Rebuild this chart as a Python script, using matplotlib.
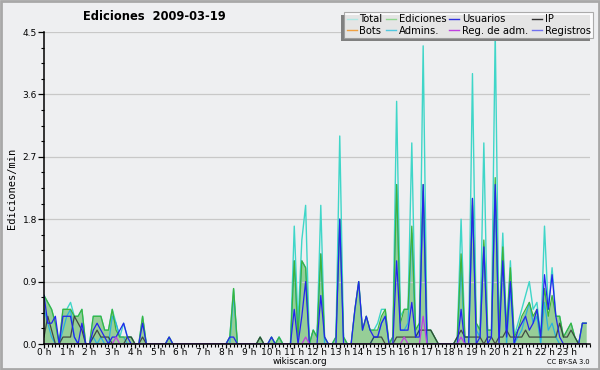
import numpy as np
import matplotlib
matplotlib.use("Agg")
import matplotlib.pyplot as plt
from matplotlib.lines import Line2D
from matplotlib.patches import Rectangle
from matplotlib.ticker import MultipleLocator

# 10-minute buckets, 0h00 .. 23h50 (edits per minute)
total = [0.7, 0.6, 0.5, 0.3, 0.0, 0.5, 0.5, 0.6, 0.4, 0.4, 0.5, 0.0,
         0.0, 0.4, 0.4, 0.4, 0.2, 0.2, 0.5, 0.3, 0.1, 0.3, 0.1, 0.1,
         0.0, 0.0, 0.4, 0.0, 0.0, 0.0, 0.0, 0.0, 0.0, 0.1, 0.0, 0.0,
         0.0, 0.0, 0.0, 0.0, 0.0, 0.0, 0.0, 0.0, 0.0, 0.0, 0.0, 0.0,
         0.0, 0.1, 0.8, 0.0, 0.0, 0.0, 0.0, 0.0, 0.0, 0.1, 0.0, 0.0,
         0.1, 0.0, 0.1, 0.0, 0.0, 0.0, 1.7, 0.3, 1.5, 2.0, 0.0, 0.2,
         0.1, 2.0, 0.1, 0.0, 0.0, 0.1, 3.0, 0.1, 0.0, 0.0, 0.5, 0.9,
         0.2, 0.4, 0.2, 0.2, 0.3, 0.5, 0.5, 0.0, 0.1, 3.5, 0.4, 0.5,
         0.5, 2.9, 0.2, 0.3, 4.3, 0.2, 0.2, 0.1, 0.0, 0.0, 0.0, 0.0,
         0.0, 0.1, 1.8, 0.1, 0.1, 3.9, 0.3, 0.2, 2.9, 0.2, 0.2, 4.5,
         0.2, 1.6, 0.2, 1.2, 0.1, 0.3, 0.5, 0.7, 0.9, 0.5, 0.6, 0.1,
         1.7, 0.5, 1.1, 0.4, 0.4, 0.1, 0.2, 0.3, 0.1, 0.0, 0.3, 0.3]

ediciones = [0.7, 0.6, 0.5, 0.3, 0.0, 0.5, 0.5, 0.5, 0.4, 0.4, 0.5, 0.0,
             0.0, 0.4, 0.4, 0.4, 0.2, 0.2, 0.5, 0.2, 0.1, 0.1, 0.1, 0.1,
             0.0, 0.0, 0.4, 0.0, 0.0, 0.0, 0.0, 0.0, 0.0, 0.1, 0.0, 0.0,
             0.0, 0.0, 0.0, 0.0, 0.0, 0.0, 0.0, 0.0, 0.0, 0.0, 0.0, 0.0,
             0.0, 0.1, 0.8, 0.0, 0.0, 0.0, 0.0, 0.0, 0.0, 0.1, 0.0, 0.0,
             0.1, 0.0, 0.1, 0.0, 0.0, 0.0, 1.2, 0.1, 1.2, 1.1, 0.0, 0.2,
             0.1, 1.3, 0.1, 0.0, 0.0, 0.1, 1.8, 0.1, 0.0, 0.0, 0.5, 0.9,
             0.2, 0.4, 0.2, 0.2, 0.2, 0.4, 0.5, 0.0, 0.1, 2.3, 0.3, 0.5,
             0.5, 1.7, 0.2, 0.3, 2.3, 0.2, 0.2, 0.1, 0.0, 0.0, 0.0, 0.0,
             0.0, 0.1, 1.3, 0.1, 0.1, 2.1, 0.3, 0.2, 1.5, 0.2, 0.2, 2.4,
             0.2, 1.4, 0.2, 1.1, 0.1, 0.2, 0.4, 0.5, 0.6, 0.4, 0.5, 0.1,
             0.8, 0.4, 0.7, 0.4, 0.4, 0.1, 0.2, 0.3, 0.1, 0.0, 0.3, 0.3]

usuarios = [0.7, 0.3, 0.3, 0.4, 0.0, 0.4, 0.4, 0.4, 0.1, 0.0, 0.3, 0.0,
            0.0, 0.2, 0.3, 0.2, 0.1, 0.0, 0.1, 0.1, 0.2, 0.3, 0.1, 0.0,
            0.0, 0.0, 0.3, 0.0, 0.0, 0.0, 0.0, 0.0, 0.0, 0.1, 0.0, 0.0,
            0.0, 0.0, 0.0, 0.0, 0.0, 0.0, 0.0, 0.0, 0.0, 0.0, 0.0, 0.0,
            0.0, 0.1, 0.1, 0.0, 0.0, 0.0, 0.0, 0.0, 0.0, 0.0, 0.0, 0.0,
            0.1, 0.0, 0.0, 0.0, 0.0, 0.0, 0.5, 0.0, 0.4, 0.9, 0.0, 0.0,
            0.0, 0.7, 0.1, 0.0, 0.0, 0.0, 1.8, 0.0, 0.0, 0.0, 0.5, 0.9,
            0.2, 0.4, 0.2, 0.1, 0.1, 0.3, 0.4, 0.0, 0.0, 1.2, 0.2, 0.2,
            0.2, 0.6, 0.1, 0.1, 2.3, 0.0, 0.0, 0.0, 0.0, 0.0, 0.0, 0.0,
            0.0, 0.0, 0.5, 0.0, 0.0, 2.1, 0.0, 0.1, 1.4, 0.0, 0.1, 2.3,
            0.0, 1.2, 0.1, 0.9, 0.0, 0.2, 0.3, 0.4, 0.2, 0.3, 0.5, 0.1,
            1.0, 0.5, 1.0, 0.4, 0.1, 0.0, 0.0, 0.0, 0.0, 0.0, 0.3, 0.3]

ip = [0.1, 0.4, 0.2, 0.0, 0.0, 0.1, 0.1, 0.1, 0.4, 0.3, 0.2, 0.0,
      0.0, 0.1, 0.2, 0.1, 0.1, 0.1, 0.0, 0.0, 0.0, 0.0, 0.1, 0.1,
      0.0, 0.0, 0.1, 0.0, 0.0, 0.0, 0.0, 0.0, 0.0, 0.0, 0.0, 0.0,
      0.0, 0.0, 0.0, 0.0, 0.0, 0.0, 0.0, 0.0, 0.0, 0.0, 0.0, 0.0,
      0.0, 0.0, 0.0, 0.0, 0.0, 0.0, 0.0, 0.0, 0.0, 0.1, 0.0, 0.0,
      0.0, 0.0, 0.0, 0.0, 0.0, 0.0, 0.0, 0.0, 0.0, 0.0, 0.0, 0.0,
      0.0, 0.0, 0.0, 0.0, 0.0, 0.0, 0.0, 0.0, 0.0, 0.0, 0.0, 0.0,
      0.0, 0.0, 0.0, 0.1, 0.1, 0.1, 0.0, 0.0, 0.0, 0.1, 0.1, 0.1,
      0.1, 0.1, 0.1, 0.2, 0.2, 0.2, 0.2, 0.1, 0.0, 0.0, 0.0, 0.0,
      0.0, 0.1, 0.2, 0.1, 0.1, 0.1, 0.1, 0.1, 0.0, 0.1, 0.1, 0.0,
      0.1, 0.1, 0.2, 0.1, 0.1, 0.1, 0.1, 0.2, 0.1, 0.1, 0.1, 0.1,
      0.1, 0.1, 0.1, 0.1, 0.3, 0.1, 0.1, 0.2, 0.1, 0.0, 0.0, 0.0]

admins = [0.5, 0.3, 0.1, 0.0, 0.0, 0.2, 0.4, 0.5, 0.1, 0.0, 0.0, 0.0,
          0.0, 0.1, 0.0, 0.1, 0.0, 0.0, 0.4, 0.3, 0.1, 0.1, 0.0, 0.0,
          0.0, 0.0, 0.0, 0.0, 0.0, 0.0, 0.0, 0.0, 0.0, 0.0, 0.0, 0.0,
          0.0, 0.0, 0.0, 0.0, 0.0, 0.0, 0.0, 0.0, 0.0, 0.0, 0.0, 0.0,
          0.0, 0.0, 0.7, 0.0, 0.0, 0.0, 0.0, 0.0, 0.0, 0.0, 0.0, 0.0,
          0.0, 0.0, 0.1, 0.0, 0.0, 0.0, 1.2, 0.1, 1.2, 1.1, 0.0, 0.2,
          0.1, 1.3, 0.0, 0.0, 0.0, 0.1, 1.8, 0.1, 0.0, 0.0, 0.0, 0.0,
          0.0, 0.0, 0.0, 0.1, 0.1, 0.3, 0.4, 0.0, 0.1, 2.3, 0.2, 0.2,
          0.3, 1.6, 0.1, 0.2, 2.2, 0.0, 0.0, 0.0, 0.0, 0.0, 0.0, 0.0,
          0.0, 0.0, 1.1, 0.0, 0.0, 2.0, 0.2, 0.1, 1.4, 0.1, 0.1, 2.2,
          0.1, 1.3, 0.0, 0.8, 0.0, 0.1, 0.2, 0.4, 0.6, 0.3, 0.4, 0.0,
          0.6, 0.2, 0.3, 0.1, 0.0, 0.0, 0.0, 0.0, 0.0, 0.0, 0.0, 0.0]

reg_adm = [0.0] * 144
for k, v in [(19, 0.1), (69, 0.1), (95, 0.1), (100, 0.4), (110, 0.1)]:
    reg_adm[k] = v
bots = [0.0] * 144
registros = [0.0] * 144

hour_labels = [f"{h} h" for h in range(24)]
y_ticks = [0.0, 0.9, 1.8, 2.7, 3.6, 4.5]

t = np.arange(len(total)) / 6.0

BG = "#eeeff1"
fig = plt.figure(figsize=(6.0, 3.7), dpi=100, facecolor=BG)
ax = fig.add_axes([44/600, 1-344/370, 546/600, 312/370], facecolor=BG)

c_total = "#3fd6c8"
c_edit = "#3cb43c"
c_users = "#2424ee"
c_ip = "#333333"
c_bots = "#f0a030"
c_admins = "#2ab0e0"
c_regadm = "#c040e0"
c_reg = "#7070f0"

ax.fill_between(t, ediciones, 0, color="#5cb85c", alpha=0.6, lw=0, zorder=1)
ax.plot(t, total, color=c_total, lw=1.0, zorder=2)
ax.plot(t, admins, color=c_admins, lw=0.9, zorder=3)
ax.plot(t, ediciones, color=c_edit, lw=0.9, zorder=4)
ax.plot(t, bots, color=c_bots, lw=0.9, zorder=4)
ax.plot(t, ip, color=c_ip, lw=0.9, alpha=0.85, zorder=5)
ax.plot(t, usuarios, color=c_users, lw=0.9, zorder=6)
ax.plot(t, registros, color=c_reg, lw=0.9, zorder=6)
ax.plot(t, reg_adm, color=c_regadm, lw=0.9, zorder=7)

ax.set_xlim(0, 24)
ax.set_ylim(0, 4.5)
ax.set_yticks(y_ticks)
ax.set_yticklabels([f"{v:.1f}" for v in y_ticks])
ax.yaxis.set_minor_locator(MultipleLocator(0.225))
ax.set_xticks(range(24))
ax.set_xticklabels(hour_labels)
ax.xaxis.set_minor_locator(MultipleLocator(1/6))
ax.tick_params(axis="y", which="major", labelsize=6.5, length=4, width=0.9,
               color="black", pad=1)
ax.tick_params(axis="x", which="major", labelsize=6.5, length=3, width=0.9,
               color="black", pad=0)
ax.tick_params(axis="both", which="minor", length=2.5, width=0.8, color="black")
ax.grid(axis="y", which="major", color="#c8c8c8", lw=0.9, zorder=0)
for s in ["top", "right"]:
    ax.spines[s].set_visible(False)
for s in ["left", "bottom"]:
    ax.spines[s].set_linewidth(1.1)
    ax.spines[s].set_zorder(10)

ax.set_ylabel("Ediciones/min", fontsize=7.5, family="DejaVu Sans Mono", labelpad=4)

fig.text(154/600, 1-16/370, "Ediciones  2009-03-19", ha="center", va="center",
         fontsize=8.3, fontweight="bold")
fig.text(300/600, 1-362/370, "wikiscan.org", ha="center", va="center", fontsize=6.3)
fig.text(590/600, 1-362/370, "CC BY-SA 3.0", ha="right", va="center", fontsize=4.8)

names = ["Total", "Bots", "Ediciones", "Admins.", "Usuarios", "Reg. de adm.", "IP", "Registros"]
cols = ["#aee8e4", "#f0a040", "#90d890", "#50c8e0", "#3030e0", "#c040e0", "#303030", "#7070f0"]
handles = [Line2D([0], [0], color=c, lw=1.0) for c in cols]
leg = fig.legend(handles, names, ncol=4, loc="upper right", bbox_to_anchor=(593/600, 1-12/370),
                 fontsize=7.2, frameon=True, fancybox=False,
                 shadow=False, handlelength=1.0, handletextpad=0.3, columnspacing=0.3,
                 labelspacing=0.1, borderpad=0.25, borderaxespad=0)
leg.get_frame().set_facecolor("white")
leg.get_frame().set_edgecolor("#999999")
leg.get_frame().set_linewidth(0.8)
leg.set_zorder(30)
fig.canvas.draw()
bb = leg.get_window_extent().transformed(fig.transFigure.inverted())
sh = Rectangle((bb.x0 - 3/600, bb.y0 - 3/370), bb.width, bb.height, transform=fig.transFigure,
               facecolor="#808080", edgecolor="none", zorder=25)
fig.add_artist(sh)

border = Rectangle((0.001, 0.002), 0.997, 0.995, transform=fig.transFigure,
                   facecolor="none", edgecolor="#a8a8a8", lw=2, zorder=40)
fig.add_artist(border)

fig.savefig("out.png", dpi=100, facecolor=BG)
